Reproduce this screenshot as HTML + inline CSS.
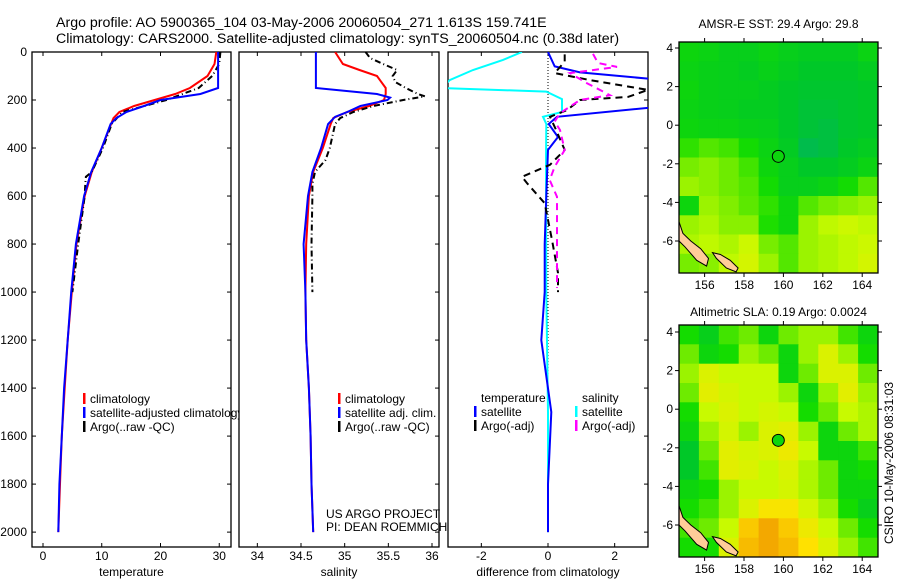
<!DOCTYPE html>
<html><head><meta charset="utf-8">
<style>
html,body{margin:0;padding:0;background:#fff;}
svg{display:block;font-family:"Liberation Sans",sans-serif;}
text{fill:#000;}
</style></head>
<body>
<svg id="chart" width="900" height="580" viewBox="0 0 900 580" xmlns="http://www.w3.org/2000/svg">
<text x="56" y="27" font-size="14.2">Argo profile: AO 5900365_104 03-May-2006 20060504_271 1.613S 159.741E</text>
<text x="56" y="43" font-size="14.2">Climatology: CARS2000. Satellite-adjusted climatology: synTS_20060504.nc (0.38d later)</text>
<g id="g"></g>
</svg>
<script>
// ---------- data ----------
const depthTicks=[0,200,400,600,800,1000,1200,1400,1600,1800,2000];
const tempTicks=[0,10,20,30];
const salTicks=[34,34.5,35,35.5,36];
const diffTicks=[-2,0,2];
// temperature
const tClimD=[0,50,100,150,175,200,225,250,275,300,400,500,600,800,1000,1200,1400,1600,1800,2000];
const tClimV=[29.5,29.2,28,25,22.5,19,15.5,13,12,11.6,10,8.3,7.1,5.7,4.9,4.2,3.7,3.2,2.9,2.6];
const tSatD=[0,150,175,200,225,250,275,300,400,500,600,800,1000,1200,1400,1600,1800,2000];
const tSatV=[29.8,29.8,26.8,20,17.2,14.2,12.5,11.5,10,8.2,7,5.6,4.8,4.2,3.6,3.2,2.8,2.6];
const tArgoD=[0,50,100,150,200,250,300,400,500,520,550,600,800,1000];
const tArgoV=[30.2,30,28.8,26.5,21,13.5,11.7,10.2,8.3,7.3,7.2,7.1,6,5];
// salinity
const sClimD=[0,50,75,100,150,175,200,225,250,275,300,400,500,600,800,1000,1200,1400,1600,1800,2000];
const sClimV=[34.89,34.98,35.17,35.37,35.47,35.47,35.45,35.28,35.03,34.87,34.84,34.75,34.64,34.59,34.56,34.55,34.56,34.59,34.61,34.62,34.64];
const sSatD=[0,150,175,190,200,225,250,270,300,400,500,600,800,1000,1200,1400,1600,1800,2000];
const sSatV=[34.67,34.67,35.37,35.52,35.49,35.18,35.03,34.89,34.81,34.73,34.63,34.58,34.53,34.55,34.56,34.59,34.61,34.62,34.64];
const sArgoD=[0,25,50,75,100,125,150,175,185,200,225,250,275,300,400,450,500,550,600,800,1000];
const sArgoV=[35.24,35.29,35.44,35.60,35.55,35.58,35.70,35.84,35.92,35.67,35.33,35.10,34.95,34.89,34.83,34.78,34.66,34.63,34.63,34.62,34.63];
// differences
const dTSatD=[0,60,85,130,212,270,300,354,408,600,800,1000,1200,1500,1800,2000];
const dTSatV=[0,0.2,0.96,4.5,4.5,0.27,0.02,0.3,0,-0.05,-0.1,-0.1,-0.2,0.1,0,0];
const dSSatD=[0,33,75,117,150,165,196,250,270,300,437,1000,1500,2000];
const dSSatV=[-0.78,-1.35,-2.25,-2.95,-3.2,-0.05,0.42,0.42,-0.15,-0.05,-0.06,-0.05,0,0];
const dTArgoD=[10,40,88,117,158,187,200,242,270,312,408,470,520,546,630,783,920,1000];
const dTArgoV=[0.5,0.5,0.2,1.26,3,2.4,0.96,0.57,0.06,0.2,0.5,0.06,-0.78,-0.63,-0.1,0.12,0.3,0.3];
const dSArgoD=[8,46,62,88,130,180,200,255,290,325,408,478,533,603,783,983];
const dSArgoV=[1.35,1.5,2.07,0.66,1.17,1.86,0.96,0.36,0.2,0.36,0.5,0.2,0.05,0.27,0.27,0.27];
// maps
const lonTicks=[156,158,160,162,164];
const latTicks=[4,2,0,-2,-4,-6];
const sstGrid=[
[.40,.38,.35,.35,.38,.35,.33,.33,.33,.38],
[.38,.36,.35,.33,.36,.33,.30,.30,.30,.33],
[.40,.36,.35,.35,.33,.30,.28,.28,.28,.30],
[.38,.36,.35,.33,.33,.30,.25,.25,.28,.30],
[.40,.38,.38,.36,.35,.30,.25,.22,.28,.30],
[.48,.52,.50,.44,.38,.32,.18,.22,.30,.33],
[.56,.58,.55,.50,.40,.35,.30,.30,.33,.38],
[.60,.58,.55,.52,.44,.35,.35,.38,.44,.52],
[.40,.60,.57,.53,.48,.40,.52,.56,.58,.60],
[.60,.62,.58,.58,.46,.40,.60,.64,.66,.64],
[.62,.64,.62,.66,.56,.52,.60,.62,.64,.66],
[.56,.58,.64,.68,.60,.52,.60,.62,.64,.68]];
const slaGrid=[
[.45,.35,.50,.55,.40,.55,.60,.60,.50,.40],
[.55,.40,.45,.60,.55,.40,.60,.70,.60,.45],
[.60,.70,.65,.65,.65,.40,.55,.70,.70,.55],
[.55,.72,.68,.65,.65,.60,.40,.60,.72,.60],
[.45,.65,.70,.65,.68,.65,.45,.55,.65,.62],
[.40,.60,.68,.60,.70,.72,.60,.40,.55,.62],
[.30,.55,.72,.68,.70,.75,.65,.40,.40,.50],
[.30,.50,.72,.70,.65,.70,.62,.55,.40,.45],
[.40,.45,.60,.65,.65,.68,.62,.55,.40,.40],
[.45,.50,.60,.70,.78,.78,.68,.60,.45,.35],
[.50,.55,.65,.85,.92,.85,.75,.65,.55,.45],
[.45,.45,.70,.88,.92,.88,.80,.70,.60,.50]];
const floatLon=159.741, floatLat=-1.613;
const land1Lon=[154.7,154.9,155.3,155.8,156.2,156.1,155.6,155.0,154.7];
const land1Lat=[-5.0,-5.6,-6.0,-6.4,-6.9,-7.3,-7.0,-6.3,-6.0];
const land2Lon=[156.4,156.8,157.3,157.7,157.6,157.1,156.6];
const land2Lat=[-6.6,-6.7,-7.0,-7.4,-7.6,-7.4,-6.9];

// ---------- drawing ----------
const NS='http://www.w3.org/2000/svg';
const G=document.getElementById('g');
function mk(tag,attrs,parent){const e=document.createElementNS(NS,tag);for(const k in attrs)e.setAttribute(k,attrs[k]);(parent||G).appendChild(e);return e;}
function txt(s,x,y,size,anchor,parent){const e=mk('text',{x:x,y:y,'font-size':size,'text-anchor':anchor||'start'},parent);e.textContent=s;return e;}

const Y0=52,Y1=547,DMAX=2062;
function yD(d){return Y0+(Y1-Y0)*d/DMAX;}
const panels=[
 {name:'temperature-panel',x0:32,x1:231,lo:-1.87,hi:32,ticks:tempTicks,title:'temperature'},
 {name:'salinity-panel',x0:239,x1:439,lo:33.79,hi:36.08,ticks:salTicks,title:'salinity'},
 {name:'difference-panel',x0:448,x1:648,lo:-3,hi:3,ticks:diffTicks,title:'difference from climatology'}];
const lc=mk('clipPath',{id:'legclip'});mk('rect',{x:0,y:0,width:239,height:580},lc);
panels.forEach((p,i)=>{p.x=v=>p.x0+(p.x1-p.x0)*(v-p.lo)/(p.hi-p.lo);
 const cp=mk('clipPath',{id:'cp'+i});mk('rect',{x:p.x0,y:Y0,width:p.x1-p.x0,height:Y1-Y0},cp);
 const fr=mk('rect',{x:p.x0,y:Y0,width:p.x1-p.x0,height:Y1-Y0,fill:'none',stroke:'#000','stroke-width':1.3});
 
 
 p.ticks.forEach(t=>{const x=p.x(t);
  mk('line',{x1:x,x2:x,y1:Y0,y2:Y0+4,stroke:'#000'});mk('line',{x1:x,x2:x,y1:Y1,y2:Y1-4,stroke:'#000'});
  const l=txt(String(t),x,560,12,'middle');
  
  });
 depthTicks.forEach(d=>{const y=yD(d);mk('line',{x1:p.x1,x2:p.x1-4,y1:y,y2:y,stroke:'#000'});
  if(i==0){mk('line',{x1:p.x0,x2:p.x0+4,y1:y,y2:y,stroke:'#000'});
   const l=txt(String(d),27,y+4,12,'end');
   
   }});
 const at=txt(p.title,(p.x0+p.x1)/2,576,12,'middle');
 
 
});
function series(pi,D,V,color,dash,name,w){const p=panels[pi];
 const pts=D.map((d,k)=>p.x(V[k]).toFixed(1)+','+yD(d).toFixed(1)).join(' ');
 const e=mk('polyline',{points:pts,fill:'none',stroke:color,'stroke-width':w||2,'stroke-dasharray':dash||'none','clip-path':'url(#cp'+pi+')'});
 
 }
{const p=panels[2];const z=mk('line',{x1:p.x(0),x2:p.x(0),y1:Y0,y2:yD(2000),stroke:'#000','stroke-dasharray':'1,2'});
 }
series(0,tClimD,tClimV,'#f00','','temperature-climatology-line');
series(0,tArgoD,tArgoV,'#000','6,3,1,3','temperature-argo-line');
series(0,tSatD,tSatV,'#00f','','temperature-satellite-line');
series(1,sClimD,sClimV,'#f00','','salinity-climatology-line');
series(1,sArgoD,sArgoV,'#000','6,3,1,3','salinity-argo-line');
series(1,sSatD,sSatV,'#00f','','salinity-satellite-line');
series(2,dSSatD,dSSatV,'#0ff','','salinity-satellite-diff-line');
series(2,dTSatD,dTSatV,'#00f','','temperature-satellite-diff-line');
series(2,dTArgoD,dTArgoV,'#000','7,5','temperature-argo-diff-line');
series(2,dSArgoD,dSArgoV,'#f0f','7,5','salinity-argo-diff-line');
function leg(x,y,color,label,name,clip){if(color){const b=mk('rect',{x:x-7,y:y-10,width:2.5,height:11,fill:color});
 }
 const t=txt(label,x,y,12);if(clip)t.setAttribute('clip-path','url(#legclip)');
 }
leg(90,403,'#f00','climatology','legend-climatology');
leg(90,417,'#00f','satellite-adjusted climatology','legend-satellite-adjusted',true);
leg(90,431,'#000','Argo(..raw -QC)','legend-argo');
leg(345,403,'#f00','climatology','legend-sal-climatology');
leg(345,417,'#00f','satellite adj. clim.','legend-sal-satellite');
leg(345,431,'#000','Argo(..raw -QC)','legend-sal-argo');
leg(481,402,null,'temperature','legend-temperature-header');
leg(481,416,'#00f','satellite','legend-temp-satellite');
leg(481,430,'#000','Argo(-adj)','legend-temp-argo');
leg(582,402,null,'salinity','legend-salinity-header');
leg(582,416,'#0ff','satellite','legend-sal-sat-diff');
leg(582,430,'#f0f','Argo(-adj)','legend-sal-argo-diff');
leg(326,518,null,'US ARGO PROJECT','project-credit');
leg(326,531,null,'PI: DEAN ROEMMICH','pi-credit');

function cmap(v){const st=[[0,[0,170,130]],[0.3,[0,200,40]],[0.45,[20,220,0]],[0.65,[200,250,0]],[0.8,[255,225,0]],[1,[235,130,0]]];
 for(let k=1;k<st.length;k++){if(v<=st[k][0]){const a=st[k-1],b=st[k],t=(v-a[0])/(b[0]-a[0]);
  return 'rgb('+a[1].map((c,j)=>Math.round(c+(b[1][j]-c)*t)).join(',')+')';}}return 'rgb(235,130,0)';}
function drawMap(id,grid,top,bottom,lat4y,title,titleY){
 const L=679,R=878,LON0=154.7;
 const xL=lon=>L+(lon-LON0)*19.7, yL=lat=>lat4y+(4-lat)*19.3;
 const cp=mk('clipPath',{id:'mc'+id});mk('rect',{x:L,y:top,width:R-L,height:bottom-top},cp);
 const g=mk('g',{'clip-path':'url(#mc'+id+')'});
 
 const nr=grid.length,nc=grid[0].length,cw=(R-L)/nc,ch=(bottom-top)/nr;
 grid.forEach((row,r)=>row.forEach((v,c)=>{
  const e=mk('rect',{x:(L+c*cw).toFixed(1),y:(top+r*ch).toFixed(1),width:(cw+0.6).toFixed(1),height:(ch+0.6).toFixed(1),fill:cmap(v)},g);
  
  }));
 [[land1Lon,land1Lat],[land2Lon,land2Lat]].forEach(([lo,la])=>{const e=mk('polygon',{points:lo.map((v,k)=>xL(v).toFixed(1)+','+yL(la[k]).toFixed(1)).join(' '),fill:'#fc9',stroke:'#000','stroke-width':1},g);
  });
 const fc=mk('circle',{cx:xL(floatLon),cy:yL(floatLat),r:6,fill:cmap(0.4),stroke:'#000','stroke-width':1});
 
 const fr=mk('rect',{x:L,y:top,width:R-L,height:bottom-top,fill:'none',stroke:'#000','stroke-width':1.3});
 
 lonTicks.forEach(t=>{const x=xL(t);mk('line',{x1:x,x2:x,y1:top,y2:top-4,stroke:'#000'});mk('line',{x1:x,x2:x,y1:bottom,y2:bottom+4,stroke:'#000'});
  const l=txt(String(t),x,bottom+16,12,'middle');});
 latTicks.forEach(t=>{const y=yL(t);mk('line',{x1:L,x2:L-4,y1:y,y2:y,stroke:'#000'});mk('line',{x1:R,x2:R+4,y1:y,y2:y,stroke:'#000'});
  const l=txt(String(t),673,y+4,12,'end');});
 const tt=txt(title,(L+R)/2,titleY,12,'middle');
}
drawMap('sst-map',sstGrid,42,273,48,'AMSR-E SST: 29.4 Argo: 29.8',28);
drawMap('sla-map',slaGrid,325,557,332,'Altimetric SLA: 0.19 Argo: 0.0024',316);
const ct=txt('CSIRO 10-May-2006 08:31:03',0,0,12,'middle');
ct.setAttribute('transform','translate(893,463) rotate(-90)');


</script>
</body></html>
